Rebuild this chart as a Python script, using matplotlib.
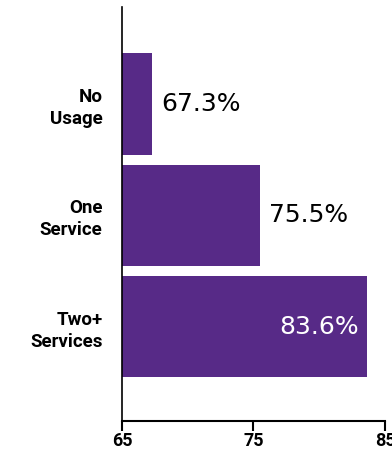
import matplotlib
matplotlib.use("Agg")
import matplotlib.pyplot as plt

categories = ["No\nUsage", "One\nService", "Two+\nServices"]
values = [67.3, 75.5, 83.6]
tick_values = [65, 75, 85]

purple = "#572a87"

plt.rcParams['font.family'] = ['Roboto', 'DejaVu Sans']

fig = plt.figure(figsize=(3.92, 4.5), dpi=100)
ax = fig.add_axes([0.311, 0.064, 0.671, 0.9204])

pos = list(range(len(categories)))
base = tick_values[0]
ax.barh(pos, [v - base for v in values], left=base, height=0.91, color=purple)

ax.set_xlim(tick_values[0], tick_values[-1])
ax.set_ylim(len(categories) - 1 + 0.85, -0.87)

ax.set_yticks(pos)
ax.set_yticklabels(categories, fontsize=13.5, fontweight='bold', linespacing=1.3)
ax.tick_params(axis='y', length=0, pad=14)

ax.set_xticks(tick_values)
ax.set_xticklabels([str(t) for t in tick_values], fontsize=13, fontweight='bold')
ax.tick_params(axis='x', direction='out', length=7, width=1.5, pad=0.5)

for side in ['top', 'right']:
    ax.spines[side].set_visible(False)
ax.spines['left'].set_linewidth(1.2)
ax.spines['bottom'].set_linewidth(1.5)

# value labels: outside the short bars, inside the longest one
for i, v in enumerate(values):
    label = f"{v:.1f}%"
    if v == max(values):
        ax.text(v - 0.6, i, label, ha='right', va='center', color='white',
                fontsize=18, family='DejaVu Sans')
    else:
        ax.text(v + 0.7, i, label, ha='left', va='center', color='black',
                fontsize=18, family='DejaVu Sans')

fig.savefig("out.png", dpi=100)
